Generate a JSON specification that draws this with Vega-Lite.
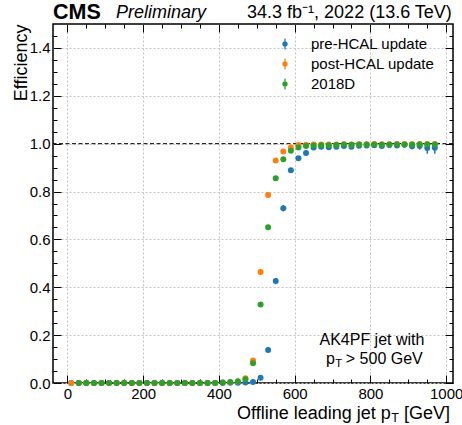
{
"$schema": "https://vega.github.io/schema/vega-lite/v6.json",
"width": 400, "height": 359,
"autosize": {"type": "none"},
"padding": {"left": 53, "top": 24, "right": 9, "bottom": 42},
"background": "white",
"config": {
  "view": {"stroke": "black", "strokeWidth": 1.5},
  "font": "Liberation Sans",
  "axis": {"domain": false, "tickColor": "black", "tickWidth": 1, "labelColor": "black", "labelFontSize": 15, "labelFont": "Liberation Sans", "titleFont": "Liberation Sans", "titleColor": "black", "gridColor": "#c4c4c4", "gridDash": [2, 2], "gridWidth": 1, "labelOverlap": false, "labelFlush": false},
  "text": {"font": "Liberation Sans", "color": "black"}
},
"datasets": {
"eff": [
{"s":"pre-HCAL update","pt":10,"eff":0,"lo":0,"hi":0.002},
{"s":"pre-HCAL update","pt":30,"eff":0,"lo":0,"hi":0.002},
{"s":"pre-HCAL update","pt":50,"eff":0,"lo":0,"hi":0.002},
{"s":"pre-HCAL update","pt":70,"eff":0,"lo":0,"hi":0.002},
{"s":"pre-HCAL update","pt":90,"eff":0,"lo":0,"hi":0.002},
{"s":"pre-HCAL update","pt":110,"eff":0,"lo":0,"hi":0.002},
{"s":"pre-HCAL update","pt":130,"eff":0,"lo":0,"hi":0.002},
{"s":"pre-HCAL update","pt":150,"eff":0,"lo":0,"hi":0.002},
{"s":"pre-HCAL update","pt":170,"eff":0,"lo":0,"hi":0.002},
{"s":"pre-HCAL update","pt":190,"eff":0,"lo":0,"hi":0.002},
{"s":"pre-HCAL update","pt":210,"eff":0,"lo":0,"hi":0.002},
{"s":"pre-HCAL update","pt":230,"eff":0,"lo":0,"hi":0.002},
{"s":"pre-HCAL update","pt":250,"eff":0,"lo":0,"hi":0.002},
{"s":"pre-HCAL update","pt":270,"eff":0,"lo":0,"hi":0.002},
{"s":"pre-HCAL update","pt":290,"eff":0,"lo":0,"hi":0.002},
{"s":"pre-HCAL update","pt":310,"eff":0,"lo":0,"hi":0.002},
{"s":"pre-HCAL update","pt":330,"eff":0,"lo":0,"hi":0.002},
{"s":"pre-HCAL update","pt":350,"eff":0,"lo":0,"hi":0.002},
{"s":"pre-HCAL update","pt":370,"eff":0,"lo":0,"hi":0.002},
{"s":"pre-HCAL update","pt":390,"eff":0,"lo":0,"hi":0.002},
{"s":"pre-HCAL update","pt":410,"eff":0,"lo":0,"hi":0.002},
{"s":"pre-HCAL update","pt":430,"eff":0.001,"lo":0,"hi":0.003},
{"s":"pre-HCAL update","pt":450,"eff":0.001,"lo":0,"hi":0.003},
{"s":"pre-HCAL update","pt":470,"eff":0.002,"lo":0.001,"hi":0.004},
{"s":"pre-HCAL update","pt":490,"eff":0.004,"lo":0.002,"hi":0.007},
{"s":"pre-HCAL update","pt":510,"eff":0.022,"lo":0.017,"hi":0.027},
{"s":"pre-HCAL update","pt":530,"eff":0.138,"lo":0.128,"hi":0.148},
{"s":"pre-HCAL update","pt":550,"eff":0.426,"lo":0.413,"hi":0.439},
{"s":"pre-HCAL update","pt":570,"eff":0.73,"lo":0.718,"hi":0.742},
{"s":"pre-HCAL update","pt":590,"eff":0.889,"lo":0.88,"hi":0.898},
{"s":"pre-HCAL update","pt":610,"eff":0.939,"lo":0.932,"hi":0.946},
{"s":"pre-HCAL update","pt":630,"eff":0.961,"lo":0.955,"hi":0.967},
{"s":"pre-HCAL update","pt":650,"eff":0.984,"lo":0.979,"hi":0.988},
{"s":"pre-HCAL update","pt":670,"eff":0.987,"lo":0.982,"hi":0.991},
{"s":"pre-HCAL update","pt":690,"eff":0.985,"lo":0.98,"hi":0.99},
{"s":"pre-HCAL update","pt":710,"eff":0.987,"lo":0.982,"hi":0.991},
{"s":"pre-HCAL update","pt":730,"eff":0.99,"lo":0.985,"hi":0.994},
{"s":"pre-HCAL update","pt":750,"eff":0.987,"lo":0.981,"hi":0.992},
{"s":"pre-HCAL update","pt":770,"eff":0.991,"lo":0.985,"hi":0.995},
{"s":"pre-HCAL update","pt":790,"eff":0.992,"lo":0.986,"hi":0.996},
{"s":"pre-HCAL update","pt":810,"eff":0.993,"lo":0.987,"hi":0.997},
{"s":"pre-HCAL update","pt":830,"eff":0.99,"lo":0.982,"hi":0.995},
{"s":"pre-HCAL update","pt":850,"eff":0.994,"lo":0.987,"hi":0.998},
{"s":"pre-HCAL update","pt":870,"eff":0.992,"lo":0.984,"hi":0.997},
{"s":"pre-HCAL update","pt":890,"eff":0.995,"lo":0.988,"hi":0.999},
{"s":"pre-HCAL update","pt":910,"eff":0.989,"lo":0.977,"hi":0.996},
{"s":"pre-HCAL update","pt":930,"eff":0.99,"lo":0.975,"hi":0.997},
{"s":"pre-HCAL update","pt":950,"eff":0.982,"lo":0.958,"hi":0.995},
{"s":"pre-HCAL update","pt":970,"eff":0.983,"lo":0.958,"hi":0.996},
{"s":"post-HCAL update","pt":10,"eff":0,"lo":0,"hi":0.003},
{"s":"post-HCAL update","pt":30,"eff":0,"lo":0,"hi":0.003},
{"s":"post-HCAL update","pt":50,"eff":0,"lo":0,"hi":0.003},
{"s":"post-HCAL update","pt":70,"eff":0,"lo":0,"hi":0.003},
{"s":"post-HCAL update","pt":90,"eff":0,"lo":0,"hi":0.003},
{"s":"post-HCAL update","pt":110,"eff":0,"lo":0,"hi":0.003},
{"s":"post-HCAL update","pt":130,"eff":0,"lo":0,"hi":0.003},
{"s":"post-HCAL update","pt":150,"eff":0,"lo":0,"hi":0.003},
{"s":"post-HCAL update","pt":170,"eff":0,"lo":0,"hi":0.003},
{"s":"post-HCAL update","pt":190,"eff":0,"lo":0,"hi":0.003},
{"s":"post-HCAL update","pt":210,"eff":0,"lo":0,"hi":0.003},
{"s":"post-HCAL update","pt":230,"eff":0,"lo":0,"hi":0.003},
{"s":"post-HCAL update","pt":250,"eff":0,"lo":0,"hi":0.003},
{"s":"post-HCAL update","pt":270,"eff":0,"lo":0,"hi":0.003},
{"s":"post-HCAL update","pt":290,"eff":0,"lo":0,"hi":0.003},
{"s":"post-HCAL update","pt":310,"eff":0,"lo":0,"hi":0.003},
{"s":"post-HCAL update","pt":330,"eff":0,"lo":0,"hi":0.003},
{"s":"post-HCAL update","pt":350,"eff":0,"lo":0,"hi":0.003},
{"s":"post-HCAL update","pt":370,"eff":0,"lo":0,"hi":0.003},
{"s":"post-HCAL update","pt":390,"eff":0,"lo":0,"hi":0.003},
{"s":"post-HCAL update","pt":410,"eff":0.002,"lo":0,"hi":0.005},
{"s":"post-HCAL update","pt":430,"eff":0.003,"lo":0.001,"hi":0.006},
{"s":"post-HCAL update","pt":450,"eff":0.006,"lo":0.003,"hi":0.009},
{"s":"post-HCAL update","pt":470,"eff":0.02,"lo":0.015,"hi":0.026},
{"s":"post-HCAL update","pt":490,"eff":0.094,"lo":0.085,"hi":0.103},
{"s":"post-HCAL update","pt":510,"eff":0.464,"lo":0.452,"hi":0.476},
{"s":"post-HCAL update","pt":530,"eff":0.785,"lo":0.775,"hi":0.795},
{"s":"post-HCAL update","pt":550,"eff":0.93,"lo":0.923,"hi":0.937},
{"s":"post-HCAL update","pt":570,"eff":0.967,"lo":0.962,"hi":0.972},
{"s":"post-HCAL update","pt":590,"eff":0.984,"lo":0.98,"hi":0.988},
{"s":"post-HCAL update","pt":610,"eff":0.994,"lo":0.991,"hi":0.996},
{"s":"post-HCAL update","pt":630,"eff":0.995,"lo":0.992,"hi":0.997},
{"s":"post-HCAL update","pt":650,"eff":0.996,"lo":0.993,"hi":0.998},
{"s":"post-HCAL update","pt":670,"eff":0.997,"lo":0.994,"hi":0.999},
{"s":"post-HCAL update","pt":690,"eff":0.996,"lo":0.993,"hi":0.998},
{"s":"post-HCAL update","pt":710,"eff":0.997,"lo":0.994,"hi":0.999},
{"s":"post-HCAL update","pt":730,"eff":0.998,"lo":0.995,"hi":0.999},
{"s":"post-HCAL update","pt":750,"eff":0.997,"lo":0.993,"hi":0.999},
{"s":"post-HCAL update","pt":770,"eff":0.998,"lo":0.995,"hi":0.999},
{"s":"post-HCAL update","pt":790,"eff":0.998,"lo":0.994,"hi":0.999},
{"s":"post-HCAL update","pt":810,"eff":0.999,"lo":0.996,"hi":1},
{"s":"post-HCAL update","pt":830,"eff":0.998,"lo":0.994,"hi":0.999},
{"s":"post-HCAL update","pt":850,"eff":0.998,"lo":0.994,"hi":0.999},
{"s":"post-HCAL update","pt":870,"eff":0.999,"lo":0.995,"hi":1},
{"s":"post-HCAL update","pt":890,"eff":0.999,"lo":0.995,"hi":1},
{"s":"post-HCAL update","pt":910,"eff":0.998,"lo":0.993,"hi":1},
{"s":"post-HCAL update","pt":930,"eff":0.999,"lo":0.994,"hi":1},
{"s":"post-HCAL update","pt":950,"eff":0.999,"lo":0.993,"hi":1},
{"s":"post-HCAL update","pt":970,"eff":0.999,"lo":0.992,"hi":1},
{"s":"2018D","pt":30,"eff":0,"lo":0,"hi":0.002},
{"s":"2018D","pt":50,"eff":0,"lo":0,"hi":0.002},
{"s":"2018D","pt":70,"eff":0,"lo":0,"hi":0.002},
{"s":"2018D","pt":90,"eff":0,"lo":0,"hi":0.002},
{"s":"2018D","pt":110,"eff":0,"lo":0,"hi":0.002},
{"s":"2018D","pt":130,"eff":0,"lo":0,"hi":0.002},
{"s":"2018D","pt":150,"eff":0,"lo":0,"hi":0.002},
{"s":"2018D","pt":170,"eff":0,"lo":0,"hi":0.002},
{"s":"2018D","pt":190,"eff":0,"lo":0,"hi":0.002},
{"s":"2018D","pt":210,"eff":0,"lo":0,"hi":0.002},
{"s":"2018D","pt":230,"eff":0,"lo":0,"hi":0.002},
{"s":"2018D","pt":250,"eff":0,"lo":0,"hi":0.002},
{"s":"2018D","pt":270,"eff":0,"lo":0,"hi":0.002},
{"s":"2018D","pt":290,"eff":0,"lo":0,"hi":0.002},
{"s":"2018D","pt":310,"eff":0,"lo":0,"hi":0.002},
{"s":"2018D","pt":330,"eff":0,"lo":0,"hi":0.002},
{"s":"2018D","pt":350,"eff":0,"lo":0,"hi":0.002},
{"s":"2018D","pt":370,"eff":0,"lo":0,"hi":0.002},
{"s":"2018D","pt":390,"eff":0,"lo":0,"hi":0.002},
{"s":"2018D","pt":410,"eff":0.002,"lo":0.001,"hi":0.003},
{"s":"2018D","pt":430,"eff":0.004,"lo":0.003,"hi":0.005},
{"s":"2018D","pt":450,"eff":0.007,"lo":0.006,"hi":0.008},
{"s":"2018D","pt":470,"eff":0.016,"lo":0.014,"hi":0.018},
{"s":"2018D","pt":490,"eff":0.083,"lo":0.079,"hi":0.087},
{"s":"2018D","pt":510,"eff":0.328,"lo":0.322,"hi":0.334},
{"s":"2018D","pt":530,"eff":0.651,"lo":0.645,"hi":0.657},
{"s":"2018D","pt":550,"eff":0.855,"lo":0.851,"hi":0.859},
{"s":"2018D","pt":570,"eff":0.935,"lo":0.932,"hi":0.938},
{"s":"2018D","pt":590,"eff":0.97,"lo":0.968,"hi":0.972},
{"s":"2018D","pt":610,"eff":0.984,"lo":0.982,"hi":0.986},
{"s":"2018D","pt":630,"eff":0.99,"lo":0.988,"hi":0.992},
{"s":"2018D","pt":650,"eff":0.992,"lo":0.99,"hi":0.994},
{"s":"2018D","pt":670,"eff":0.993,"lo":0.991,"hi":0.995},
{"s":"2018D","pt":690,"eff":0.993,"lo":0.991,"hi":0.995},
{"s":"2018D","pt":710,"eff":0.994,"lo":0.992,"hi":0.996},
{"s":"2018D","pt":730,"eff":0.996,"lo":0.994,"hi":0.998},
{"s":"2018D","pt":750,"eff":0.995,"lo":0.993,"hi":0.997},
{"s":"2018D","pt":770,"eff":0.996,"lo":0.994,"hi":0.998},
{"s":"2018D","pt":790,"eff":0.997,"lo":0.995,"hi":0.999},
{"s":"2018D","pt":810,"eff":0.996,"lo":0.994,"hi":0.998},
{"s":"2018D","pt":830,"eff":0.995,"lo":0.992,"hi":0.997},
{"s":"2018D","pt":850,"eff":0.997,"lo":0.995,"hi":0.999},
{"s":"2018D","pt":870,"eff":0.997,"lo":0.995,"hi":0.999},
{"s":"2018D","pt":890,"eff":0.997,"lo":0.994,"hi":0.999},
{"s":"2018D","pt":910,"eff":0.996,"lo":0.993,"hi":0.998},
{"s":"2018D","pt":930,"eff":0.997,"lo":0.994,"hi":0.999},
{"s":"2018D","pt":950,"eff":0.996,"lo":0.993,"hi":0.998},
{"s":"2018D","pt":970,"eff":0.997,"lo":0.993,"hi":0.999}
]
},
"resolve": {"axis": {"x": "independent", "y": "independent"}},
"layer": [
  {
    "data": {"values": [{}]},
    "mark": {"type": "rule", "color": "black", "strokeWidth": 1, "strokeDash": [4, 2.5]},
    "encoding": {"y": {"datum": 1, "type": "quantitative", "scale": {"domain": [0, 1.5], "nice": false, "zero": false}, "axis": null}}
  },
  {
    "data": {"name": "eff"},
    "mark": {"type": "rule", "strokeWidth": 1.5},
    "encoding": {
      "x": {"field": "pt", "type": "quantitative", "scale": {"domain": [-38, 1018], "nice": false, "zero": false}, "axis": null},
      "y": {"field": "lo", "type": "quantitative", "axis": null},
      "y2": {"field": "hi"},
      "color": {"field": "s", "type": "nominal", "scale": {"domain": ["pre-HCAL update", "post-HCAL update", "2018D"], "range": ["#1f77b4", "#ff7f0e", "#2ca02c"]},
        "legend": {"orient": "none", "legendX": 224.5, "legendY": 12.5, "title": null, "padding": 0,
          "symbolType": "M-0.5,0A0.5,0.5 0 1,1 0.5,0A0.5,0.5 0 1,1 -0.5,0Z M-0.11,-1L0.11,-1L0.11,1L-0.11,1Z",
          "symbolSize": 121, "symbolStrokeWidth": 0, "symbolOpacity": 1, "labelFontSize": 15, "labelFont": "Liberation Sans", "labelColor": "black", "labelOffset": 18.5, "rowPadding": 4}}
    }
  },
  {
    "data": {"name": "eff"},
    "mark": {"type": "point", "filled": true, "size": 36, "opacity": 1, "strokeWidth": 0},
    "encoding": {
      "x": {"field": "pt", "type": "quantitative", "scale": {"domain": [-38, 1018], "nice": false, "zero": false},
        "axis": {"orient": "bottom", "title": null, "values": [0,200,400,600,800,1000], "format": "d", "ticks": false, "labelPadding": 3.5, "grid": true}},
      "y": {"field": "eff", "type": "quantitative", "scale": {"domain": [0, 1.5], "nice": false, "zero": false},
        "axis": {"orient": "left", "title": "Efficiency", "values": [0,0.2,0.4,0.6,0.8,1,1.2,1.4], "format": ".1f", "ticks": false, "labelPadding": 3, "grid": true,
          "titleFontSize": 18, "titleFontWeight": "normal", "titleAngle": -90, "titleAlign": "right", "titleBaseline": "alphabetic", "titleX": -27, "titleY": 0}},
      "color": {"field": "s", "type": "nominal", "scale": {"domain": ["pre-HCAL update", "post-HCAL update", "2018D"], "range": ["#1f77b4", "#ff7f0e", "#2ca02c"]},
        "legend": {"orient": "none", "legendX": 224.5, "legendY": 12.5, "title": null, "padding": 0,
          "symbolType": "M-0.5,0A0.5,0.5 0 1,1 0.5,0A0.5,0.5 0 1,1 -0.5,0Z M-0.11,-1L0.11,-1L0.11,1L-0.11,1Z",
          "symbolSize": 121, "symbolStrokeWidth": 0, "symbolOpacity": 1, "labelFontSize": 15, "labelFont": "Liberation Sans", "labelColor": "black", "labelOffset": 18.5, "rowPadding": 4}}
    }
  },
  {
    "data": {"values": [{}]},
    "mark": {"type": "point", "opacity": 0},
    "encoding": {
      "x": {"datum": 0, "type": "quantitative", "axis": {"orient": "bottom", "title": null, "labels": false, "grid": false, "values": [0,200,400,600,800,1000], "tickSize": 8, "offset": -8}},
      "y": {"datum": 0, "type": "quantitative", "axis": {"orient": "left", "title": null, "labels": false, "grid": false, "values": [0,0.2,0.4,0.6,0.8,1,1.2,1.4], "tickSize": 8, "offset": -8}}
    }
  },
  {
    "data": {"values": [{}]},
    "mark": {"type": "point", "opacity": 0},
    "encoding": {
      "x": {"datum": 0, "type": "quantitative", "axis": {"orient": "bottom", "title": null, "labels": false, "grid": false, "values": [50,100,150,250,300,350,450,500,550,650,700,750,850,900,950], "tickSize": 4, "offset": -4}},
      "y": {"datum": 0, "type": "quantitative", "axis": {"orient": "left", "title": null, "labels": false, "grid": false, "values": [0.05,0.1,0.15,0.25,0.3,0.35,0.45,0.5,0.55,0.65,0.7,0.75,0.85,0.9,0.95,1.05,1.1,1.15,1.25,1.3,1.35,1.45], "tickSize": 4, "offset": -4}}
    }
  },
  {
    "data": {"values": [{}]},
    "mark": {"type": "point", "opacity": 0},
    "encoding": {
      "x": {"datum": 0, "type": "quantitative", "axis": {"orient": "top", "title": null, "labels": false, "grid": false, "values": [0,200,400,600,800,1000], "tickSize": 8, "offset": -8}},
      "y": {"datum": 0, "type": "quantitative", "axis": {"orient": "right", "title": null, "labels": false, "grid": false, "values": [0,0.2,0.4,0.6,0.8,1,1.2,1.4], "tickSize": 8, "offset": -8}}
    }
  },
  {
    "data": {"values": [{}]},
    "mark": {"type": "point", "opacity": 0},
    "encoding": {
      "x": {"datum": 0, "type": "quantitative", "axis": {"orient": "top", "title": null, "labels": false, "grid": false, "values": [50,100,150,250,300,350,450,500,550,650,700,750,850,900,950], "tickSize": 4, "offset": -4}},
      "y": {"datum": 0, "type": "quantitative", "axis": {"orient": "right", "title": null, "labels": false, "grid": false, "values": [0.05,0.1,0.15,0.25,0.3,0.35,0.45,0.5,0.55,0.65,0.7,0.75,0.85,0.9,0.95,1.05,1.1,1.15,1.25,1.3,1.35,1.45], "tickSize": 4, "offset": -4}}
    }
  },
  {
    "data": {"values": [{}]},
    "mark": {"type": "text", "text": "CMS", "fontSize": 21.5, "fontWeight": "bold", "align": "left", "baseline": "alphabetic"},
    "encoding": {"x": {"datum": -38, "type": "quantitative", "axis": null}, "y": {"datum": 1.521, "type": "quantitative", "axis": null}}
  },
  {
    "data": {"values": [{}]},
    "mark": {"type": "text", "text": "Preliminary", "fontSize": 18, "fontStyle": "italic", "align": "left", "baseline": "alphabetic"},
    "encoding": {"x": {"datum": 128, "type": "quantitative", "axis": null}, "y": {"datum": 1.523, "type": "quantitative", "axis": null}}
  },
  {
    "data": {"values": [{}]},
    "mark": {"type": "text", "text": "34.3 fb⁻¹, 2022 (13.6 TeV)", "fontSize": 18, "align": "right", "baseline": "alphabetic"},
    "encoding": {"x": {"datum": 1015, "type": "quantitative", "axis": null}, "y": {"datum": 1.523, "type": "quantitative", "axis": null}}
  },
  {
    "data": {"values": [{}]},
    "mark": {"type": "text", "text": "Offline leading jet p", "fontSize": 18, "align": "right", "baseline": "alphabetic"},
    "encoding": {"x": {"datum": 854, "type": "quantitative", "axis": null}, "y": {"datum": -0.151, "type": "quantitative", "axis": null}}
  },
  {
    "data": {"values": [{}]},
    "mark": {"type": "text", "text": "T", "fontSize": 12.6, "align": "left", "baseline": "alphabetic"},
    "encoding": {"x": {"datum": 855, "type": "quantitative", "axis": null}, "y": {"datum": -0.164, "type": "quantitative", "axis": null}}
  },
  {
    "data": {"values": [{}]},
    "mark": {"type": "text", "text": "[GeV]", "fontSize": 18, "align": "right", "baseline": "alphabetic"},
    "encoding": {"x": {"datum": 1010, "type": "quantitative", "axis": null}, "y": {"datum": -0.151, "type": "quantitative", "axis": null}}
  },
  {
    "data": {"values": [{}]},
    "mark": {"type": "text", "text": "AK4PF jet with", "fontSize": 16, "align": "center", "baseline": "alphabetic"},
    "encoding": {"x": {"datum": 804, "type": "quantitative", "axis": null}, "y": {"datum": 0.157, "type": "quantitative", "axis": null}}
  },
  {
    "data": {"values": [{}]},
    "mark": {"type": "text", "text": "p", "fontSize": 16, "align": "right", "baseline": "alphabetic"},
    "encoding": {"x": {"datum": 706, "type": "quantitative", "axis": null}, "y": {"datum": 0.081, "type": "quantitative", "axis": null}}
  },
  {
    "data": {"values": [{}]},
    "mark": {"type": "text", "text": "T", "fontSize": 11.2, "align": "left", "baseline": "alphabetic"},
    "encoding": {"x": {"datum": 707, "type": "quantitative", "axis": null}, "y": {"datum": 0.068, "type": "quantitative", "axis": null}}
  },
  {
    "data": {"values": [{}]},
    "mark": {"type": "text", "text": "> 500 GeV", "fontSize": 16, "align": "left", "baseline": "alphabetic"},
    "encoding": {"x": {"datum": 735, "type": "quantitative", "axis": null}, "y": {"datum": 0.081, "type": "quantitative", "axis": null}}
  }
]
}
